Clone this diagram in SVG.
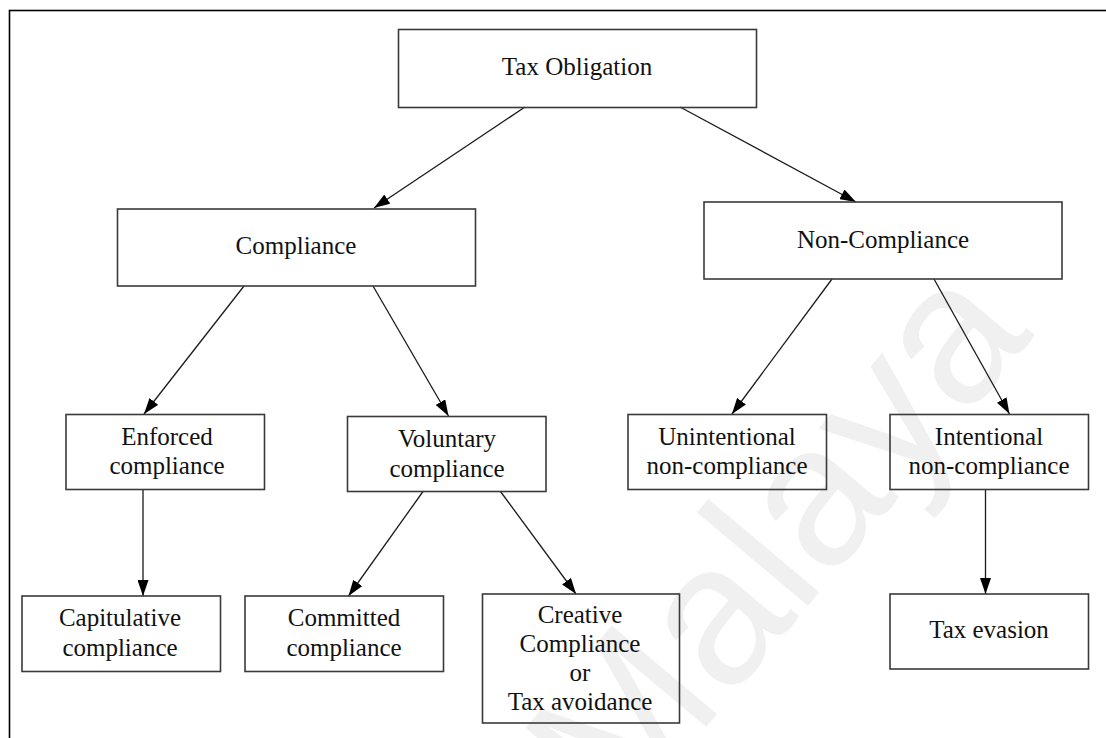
<svg xmlns="http://www.w3.org/2000/svg" width="1106" height="738" viewBox="0 0 1106 738">
  <style>
    .box { fill: none; stroke: #3a3a3a; stroke-width: 1.6; }
    .lbl { font-family: "Liberation Serif", "Times New Roman", serif; font-size: 25px; fill: #111; text-anchor: middle; }
    .edge { stroke: #1a1a1a; stroke-width: 1.3; fill: none; marker-end: url(#arrow); }
    .wm { font-family: "Liberation Sans", Arial, sans-serif; font-size: 200px; fill: #f0f0f0; }
  </style>
  <defs>
    <marker id="arrow" markerUnits="userSpaceOnUse" markerWidth="16" markerHeight="11" refX="16" refY="5.5" orient="auto">
      <path d="M0,0 L16,5.5 L0,11 z" fill="#000"/>
    </marker>
  </defs>
  <rect x="0" y="0" width="1106" height="738" fill="#fff"/>
  <text class="wm" x="1035" y="335" text-anchor="end" transform="rotate(-50 1035 335)">of Malaya</text>
  <rect x="9.5" y="10.5" width="1110" height="740" fill="none" stroke="#000" stroke-width="1.6"/>

  <g id="connectors">
    <line class="edge" x1="525" y1="107" x2="374" y2="208"/>
    <line class="edge" x1="680" y1="107" x2="856" y2="202"/>
    <line class="edge" x1="244" y1="286" x2="144" y2="414"/>
    <line class="edge" x1="373" y1="286" x2="448.5" y2="416"/>
    <line class="edge" x1="143" y1="490" x2="143" y2="596"/>
    <line class="edge" x1="423" y1="491.5" x2="348.5" y2="596"/>
    <line class="edge" x1="500.5" y1="491.5" x2="576" y2="594"/>
    <line class="edge" x1="832" y1="279" x2="732" y2="414"/>
    <line class="edge" x1="934" y1="279" x2="1009.5" y2="414"/>
    <line class="edge" x1="985.5" y1="490" x2="985.5" y2="594"/>
  </g>

  <g id="tax-obligation">
    <rect class="box" x="398.5" y="29.5" width="358" height="78"/>
    <text class="lbl" x="577" y="75">Tax Obligation</text>
  </g>
  <g id="compliance">
    <rect class="box" x="117.5" y="209" width="358" height="77"/>
    <text class="lbl" x="296" y="254">Compliance</text>
  </g>
  <g id="non-compliance">
    <rect class="box" x="704" y="202" width="358" height="77"/>
    <text class="lbl" x="883" y="248">Non-Compliance</text>
  </g>
  <g id="enforced">
    <rect class="box" x="66" y="414.5" width="198.5" height="75"/>
    <text class="lbl" x="167" y="444.5">Enforced</text>
    <text class="lbl" x="167" y="474">compliance</text>
  </g>
  <g id="voluntary">
    <rect class="box" x="347.5" y="416.5" width="198.5" height="75"/>
    <text class="lbl" x="447" y="447">Voluntary</text>
    <text class="lbl" x="447" y="477">compliance</text>
  </g>
  <g id="unintentional">
    <rect class="box" x="628" y="414.5" width="198.5" height="75"/>
    <text class="lbl" x="727" y="444.5">Unintentional</text>
    <text class="lbl" x="727" y="474">non-compliance</text>
  </g>
  <g id="intentional">
    <rect class="box" x="890" y="414.5" width="198.5" height="75"/>
    <text class="lbl" x="989" y="444.5">Intentional</text>
    <text class="lbl" x="989" y="474">non-compliance</text>
  </g>
  <g id="capitulative">
    <rect class="box" x="22" y="596" width="198.5" height="75.5"/>
    <text class="lbl" x="120" y="626">Capitulative</text>
    <text class="lbl" x="120" y="656">compliance</text>
  </g>
  <g id="committed">
    <rect class="box" x="245" y="596" width="198.5" height="75.5"/>
    <text class="lbl" x="344" y="626">Committed</text>
    <text class="lbl" x="344" y="656">compliance</text>
  </g>
  <g id="creative">
    <rect class="box" x="482.5" y="594" width="197" height="129"/>
    <text class="lbl" x="580" y="623">Creative</text>
    <text class="lbl" x="580" y="652">Compliance</text>
    <text class="lbl" x="580" y="681">or</text>
    <text class="lbl" x="580" y="710">Tax avoidance</text>
  </g>
  <g id="tax-evasion">
    <rect class="box" x="890" y="594" width="198.5" height="75"/>
    <text class="lbl" x="989" y="638">Tax evasion</text>
  </g>
</svg>
